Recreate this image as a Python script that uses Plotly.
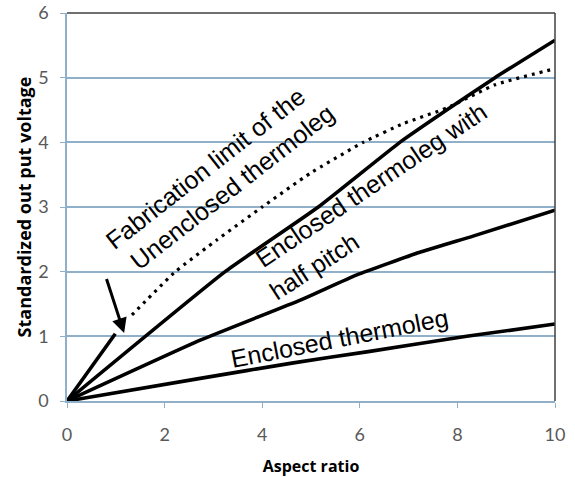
import plotly.graph_objects as go

# ---- data ----
steep_x = [0, 0.99]
steep_y = [0, 1.04]

limit_x = [1.33, 2.22, 3.07, 4.0, 4.98, 6.07, 6.89, 7.78, 8.77, 10]
limit_y = [1.33, 2.0, 2.49, 3.0, 3.52, 4.0, 4.29, 4.53, 4.89, 5.14]

top_x = [0, 3.24, 5.15, 6.82, 7.78, 8.77, 10]
top_y = [0, 2.0, 3.0, 4.0, 4.5, 5.0, 5.58]

half_x = [0, 2.73, 4.78, 5.94, 7.23, 8.32, 10]
half_y = [0, 0.94, 1.56, 1.95, 2.3, 2.55, 2.95]

encl_x = [0, 2.73, 4.64, 6.14, 8.19, 10]
encl_y = [0, 0.35, 0.59, 0.76, 1.0, 1.19]

x_ticks = [0, 2, 4, 6, 8, 10]
y_ticks = [0, 1, 2, 3, 4, 5, 6]

# label texts, positions (data units) and angles
labels = [
    ("Fabrication limit of the", 2.84, 3.60, -38),
    ("Unenclosed thermoleg", 3.38, 3.31, -38),
    ("Enclosed thermoleg with", 6.23, 3.34, -34),
    ("half pitch", 5.07, 2.09, -33),
    ("Enclosed thermoleg", 5.59, 0.97, -11),
]
arrow_tail = (0.80, 1.91)
arrow_head = (1.17, 1.05)

GRID = "#8fb0c8"
fig = go.Figure()
lw = 3.6
for xs, ys in [(steep_x, steep_y), (top_x, top_y), (half_x, half_y), (encl_x, encl_y)]:
    fig.add_trace(go.Scatter(x=xs, y=ys, mode="lines",
                             line=dict(color="black", width=lw, shape="spline", smoothing=0.4),
                             showlegend=False, hoverinfo="skip"))
fig.add_trace(go.Scatter(x=limit_x, y=limit_y, mode="lines",
                         line=dict(color="black", width=3.2, dash="3px,5px", shape="spline", smoothing=0.4),
                         showlegend=False, hoverinfo="skip"))

for text, x, y, ang in labels:
    fig.add_annotation(x=x, y=y, text=text, textangle=ang, showarrow=False,
                       font=dict(family="Liberation Sans, Arial", size=25, color="black"))

fig.add_annotation(x=arrow_head[0], y=arrow_head[1], ax=arrow_tail[0], ay=arrow_tail[1],
                   xref="x", yref="y", axref="x", ayref="y", text="", showarrow=True,
                   arrowhead=2, arrowsize=1.0, arrowwidth=3, arrowcolor="black")

# top and right frame
fig.add_shape(type="line", xref="paper", yref="paper", x0=0, x1=1, y0=1, y1=1,
              line=dict(color="#404040", width=1.5))
fig.add_shape(type="line", xref="paper", yref="paper", x0=1, x1=1, y0=0, y1=1,
              line=dict(color="#404040", width=1.5))

fig.update_layout(
    width=575, height=477,
    margin=dict(l=67, r=20, t=13, b=76),
    paper_bgcolor="white", plot_bgcolor="white",
    xaxis=dict(range=[0, 10], tickvals=x_ticks, showgrid=False, zeroline=False, automargin=False,
               showline=True, linecolor=GRID, linewidth=1.5,
               ticks="outside", ticklen=5, tickcolor=GRID, ticklabelstandoff=12,
               tickfont=dict(family="Lato", size=18, color="#595959"),
               title=dict(text="<b>Aspect ratio</b>", standoff=18,
                          font=dict(family="Open Sans", size=16, color="black"))),
    yaxis=dict(range=[0, 6], tickvals=y_ticks, showgrid=True, gridcolor=GRID, gridwidth=1.5,
               zeroline=False, showline=True, linecolor=GRID, linewidth=1.5, automargin=False,
               ticks="outside", ticklen=5, tickcolor=GRID, ticklabelstandoff=8,
               tickfont=dict(family="Lato", size=18, color="#595959"),
               title=dict(text="<b>Standardized out put voltage</b>", standoff=2,
                          font=dict(family="Open Sans", size=18, color="black"))),
)

fig.write_html("out.html")
